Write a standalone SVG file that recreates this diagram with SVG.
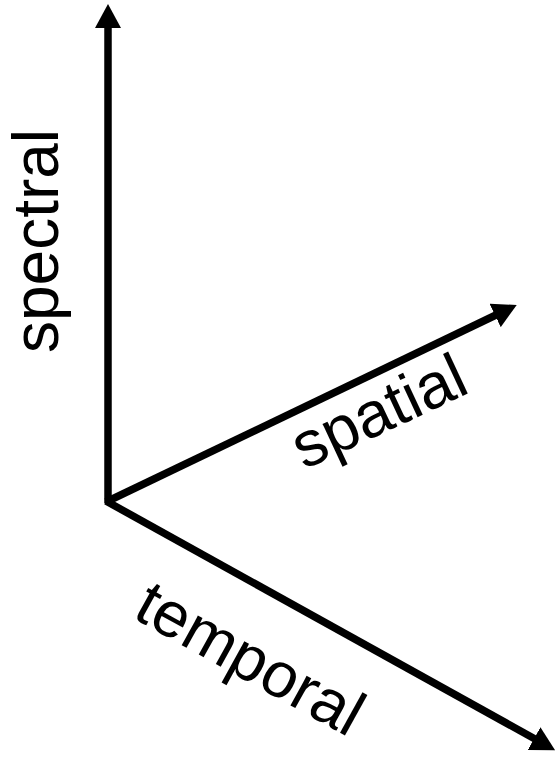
<svg xmlns="http://www.w3.org/2000/svg" width="558" height="762" viewBox="0 0 558 762">
<style>
.ax{stroke:#000;stroke-width:7.5;fill:none;marker-end:url(#ah)}
.lb{font-family:"Liberation Sans",Arial,sans-serif;font-size:64px;fill:#000}
</style>
<defs>
<marker id="ah" markerUnits="userSpaceOnUse" viewBox="0 0 24 26" markerWidth="24" markerHeight="26" refX="1" refY="13" orient="auto">
<path d="M0,0 L24,13 L0,26 z" fill="#000"/>
</marker>
</defs>
<rect width="558" height="762" fill="#fff"/>
<g id="connectors">
<path class="ax" d="M108,503 L108,27"/>
<path class="ax" d="M106,502 L496,315"/>
<path class="ax" d="M106,501 L535,739"/>
</g>
<g id="spectral"><text class="lb" transform="translate(58,353) rotate(-90)">spectral</text></g>
<g id="spatial"><text class="lb" transform="translate(304,470) rotate(-25)">spatial</text></g>
<g id="temporal"><text class="lb" transform="translate(131,617) rotate(29)">temporal</text></g>
</svg>
